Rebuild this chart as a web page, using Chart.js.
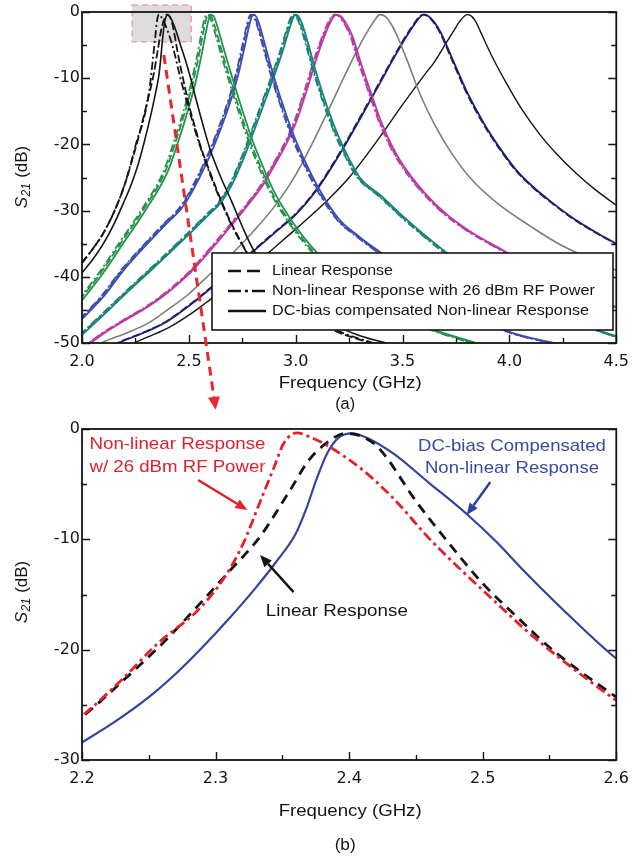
<!DOCTYPE html>
<html><head><meta charset="utf-8">
<script src="https://cdn.jsdelivr.net/npm/chart.js@4.4.1/dist/chart.umd.min.js"></script>
<style>
html,body{margin:0;padding:0;background:#fff}
body{width:638px;height:858px;position:relative;overflow:hidden}
#ca{position:absolute;left:0;top:0}
#cb{position:absolute;left:0;top:410px}
</style></head><body>
<canvas id="ca" width="638" height="420"></canvas>
<canvas id="cb" width="638" height="448"></canvas>
<script>
// ---------- tick values ----------
const xTicksA = [2.0, 2.5, 3.0, 3.5, 4.0, 4.5];
const xMinorA = [2.25, 2.75, 3.25, 3.75, 4.25];
const yTicksA = [-50, -40, -30, -20, -10, 0];
const yMinorA = [-45, -35, -25, -15, -5];
const xTicksB = [2.2, 2.3, 2.4, 2.5, 2.6];
const xMinorB = [2.25, 2.35, 2.45, 2.55];
const yTicksB = [-30, -20, -10, 0];
const yMinorB = [-25, -15, -5];

// ---------- 2.4 GHz resonator (shown in both panels) ----------
const f24_dc  = [2.0, 2.05, 2.1, 2.15, 2.2, 2.225, 2.25, 2.27, 2.29, 2.31, 2.33, 2.345, 2.36, 2.368, 2.376, 2.384, 2.392, 2.402, 2.415, 2.434, 2.46, 2.488, 2.51, 2.532, 2.569, 2.6, 2.65, 2.7, 2.75, 2.8, 2.9, 3.0, 3.1, 3.2, 3.3, 3.46];
const s24_dc  = [-39.4, -37.4, -35.0, -32.0, -28.4, -26.5, -24.3, -22.2, -19.8, -17.2, -14.4, -12.1, -9.5, -7.2, -4.4, -2.1, -0.8, -0.4, -0.9, -2.3, -4.9, -7.7, -10.2, -13.0, -17.4, -20.8, -25.0, -28.6, -32.4, -35.8, -40.5, -43.6, -45.9, -47.6, -48.9, -50.3];
const f24_lin = [2.0, 2.05, 2.1, 2.15, 2.2, 2.229, 2.263, 2.29, 2.311, 2.333, 2.356, 2.37, 2.385, 2.397, 2.41, 2.422, 2.451, 2.471, 2.5, 2.528, 2.552, 2.6, 2.65, 2.7, 2.8, 2.9, 3.0, 3.1, 3.2, 3.38];
const s24_lin = [-37.9, -35.8, -33.4, -30.2, -26.1, -23.0, -19.1, -15.6, -12.8, -9.8, -5.5, -2.8, -1.1, -0.4, -0.7, -1.7, -6.7, -9.8, -14.0, -17.3, -20.0, -24.3, -28.4, -32.0, -37.8, -41.8, -44.8, -46.8, -48.4, -50.3];
const f24_nl  = [2.0, 2.05, 2.1, 2.15, 2.2, 2.23, 2.257, 2.287, 2.307, 2.321, 2.333, 2.344, 2.351, 2.361, 2.372, 2.385, 2.41, 2.434, 2.459, 2.484, 2.508, 2.532, 2.557, 2.6, 2.65, 2.7, 2.8, 2.9, 3.0, 3.1, 3.2, 3.38];
const s24_nl  = [-37.9, -35.8, -33.4, -30.2, -26.0, -22.7, -19.4, -16.4, -13.4, -10.3, -6.7, -3.4, -1.3, -0.35, -0.8, -1.6, -3.7, -6.4, -9.8, -12.8, -15.5, -18.2, -20.7, -24.6, -28.6, -32.2, -37.8, -41.8, -44.6, -46.6, -48.2, -50.2];

// ---------- 2.6 GHz ----------
const fGreen_dc  = [2.0, 2.1, 2.2, 2.3, 2.4, 2.45, 2.5, 2.53, 2.56, 2.58, 2.592, 2.602, 2.615, 2.63, 2.66, 2.7, 2.75, 2.8, 2.85, 2.9, 3.0, 3.1, 3.2, 3.4, 3.6, 3.86];
const fGreen_lin = [1.988, 2.088, 2.188, 2.288, 2.388, 2.438, 2.488, 2.518, 2.548, 2.568, 2.58, 2.59, 2.603, 2.618, 2.648, 2.688, 2.738, 2.788, 2.838, 2.888, 2.988, 3.088, 3.188, 3.388, 3.588, 3.848];
const fGreen_nl  = [1.98, 2.08, 2.18, 2.28, 2.38, 2.43, 2.48, 2.51, 2.54, 2.56, 2.572, 2.582, 2.595, 2.61, 2.64, 2.68, 2.73, 2.78, 2.83, 2.88, 2.98, 3.08, 3.18, 3.38, 3.58, 3.84];
const sGreen     = [-43.6, -39.4, -34.6, -29.8, -24.2, -19.6, -14.4, -10.8, -6.4, -3.0, -1.2, -0.4, -0.6, -1.8, -5.2, -9.6, -14.8, -19.6, -23.6, -27.2, -32.4, -36.4, -39.6, -44.2, -47.4, -50.2];

// ---------- 2.8 GHz ----------
const fBlue_dc  = [2.0, 2.1, 2.2, 2.3, 2.4, 2.46, 2.5, 2.55, 2.6, 2.65, 2.7, 2.73, 2.76, 2.78, 2.792, 2.802, 2.815, 2.83, 2.86, 2.9, 2.95, 3.0, 3.05, 3.1, 3.2, 3.3, 3.4, 3.6, 3.8, 4.0, 4.25];
const fBlue_lin = [1.992, 2.092, 2.192, 2.292, 2.392, 2.452, 2.492, 2.542, 2.592, 2.642, 2.692, 2.722, 2.752, 2.772, 2.784, 2.794, 2.807, 2.822, 2.852, 2.892, 2.942, 2.992, 3.042, 3.092, 3.192, 3.292, 3.392, 3.592, 3.792, 3.992, 4.242];
const fBlue_nl  = [1.988, 2.088, 2.188, 2.288, 2.388, 2.448, 2.488, 2.538, 2.588, 2.638, 2.688, 2.718, 2.748, 2.768, 2.78, 2.79, 2.803, 2.818, 2.848, 2.888, 2.938, 2.988, 3.038, 3.088, 3.188, 3.288, 3.388, 3.588, 3.788, 3.988, 4.238];
const sBlue     = [-46.4, -43.0, -38.8, -35.2, -31.8, -29.9, -28.0, -25.0, -21.6, -17.6, -13.0, -9.6, -5.4, -2.4, -0.9, -0.4, -0.7, -1.9, -5.4, -10.0, -15.0, -19.4, -23.0, -26.2, -31.2, -34.0, -36.4, -41.2, -45.2, -48.3, -50.3];

// ---------- 3.0 GHz ----------
const fTeal_dc  = [2.0, 2.1, 2.2, 2.3, 2.4, 2.5, 2.6, 2.65, 2.7, 2.75, 2.8, 2.85, 2.9, 2.94, 2.97, 2.988, 3.0, 3.012, 3.03, 3.06, 3.1, 3.15, 3.2, 3.25, 3.3, 3.4, 3.5, 3.6, 3.7, 3.8, 4.0, 4.2, 4.5];
const fTeal_lin = [1.992, 2.092, 2.192, 2.292, 2.392, 2.492, 2.592, 2.642, 2.692, 2.742, 2.792, 2.842, 2.892, 2.932, 2.962, 2.98, 2.992, 3.004, 3.022, 3.052, 3.092, 3.142, 3.192, 3.242, 3.292, 3.392, 3.492, 3.592, 3.692, 3.792, 3.992, 4.192, 4.492];
const fTeal_nl  = [1.988, 2.088, 2.188, 2.288, 2.388, 2.488, 2.588, 2.638, 2.688, 2.738, 2.788, 2.838, 2.888, 2.928, 2.958, 2.976, 2.988, 3.0, 3.018, 3.048, 3.088, 3.138, 3.188, 3.238, 3.288, 3.388, 3.488, 3.588, 3.688, 3.788, 3.988, 4.188, 4.488];
const sTeal     = [-48.8, -45.8, -42.7, -39.7, -36.7, -33.6, -30.4, -28.8, -26.2, -22.6, -18.4, -14.0, -9.6, -5.8, -2.6, -0.9, -0.4, -0.6, -1.8, -5.0, -9.6, -14.6, -18.8, -22.2, -25.0, -27.8, -30.8, -33.6, -36.2, -38.4, -42.6, -45.6, -49.0];

// ---------- 3.2 GHz ----------
const fMag_dc  = [2.0, 2.1, 2.2, 2.31, 2.4, 2.5, 2.585, 2.7, 2.8, 2.85, 2.9, 2.958, 3.0, 3.05, 3.1, 3.14, 3.17, 3.19, 3.21, 3.23, 3.265, 3.3, 3.35, 3.4, 3.45, 3.5, 3.6, 3.7, 3.8, 3.97, 4.2, 4.5];
const fMag_lin = [1.994, 2.094, 2.194, 2.304, 2.394, 2.494, 2.579, 2.694, 2.794, 2.844, 2.894, 2.952, 2.994, 3.044, 3.094, 3.134, 3.164, 3.184, 3.204, 3.224, 3.259, 3.294, 3.344, 3.394, 3.444, 3.494, 3.594, 3.694, 3.794, 3.964, 4.194, 4.494];
const fMag_nl  = [1.99, 2.09, 2.19, 2.3, 2.39, 2.49, 2.575, 2.69, 2.79, 2.84, 2.89, 2.948, 2.99, 3.04, 3.09, 3.13, 3.16, 3.18, 3.2, 3.22, 3.255, 3.29, 3.34, 3.39, 3.44, 3.49, 3.59, 3.69, 3.79, 3.96, 4.19, 4.49];
const sMag     = [-51.0, -48.6, -46.6, -44.5, -42.4, -39.6, -36.6, -32.2, -28.2, -26.0, -23.2, -19.8, -16.8, -12.0, -6.8, -3.2, -1.1, -0.4, -0.6, -1.4, -3.6, -7.2, -12.0, -16.6, -20.2, -23.0, -27.2, -30.4, -32.8, -36.0, -40.0, -44.6];

// ---------- 3.4 GHz ----------
const fGray = [2.0, 2.092, 2.2, 2.31, 2.4, 2.5, 2.585, 2.7, 2.8, 2.9, 3.0, 3.1, 3.2, 3.25, 3.3, 3.34, 3.37, 3.395, 3.42, 3.45, 3.48, 3.52, 3.587, 3.65, 3.727, 3.82, 3.94, 4.1, 4.23, 4.4, 4.5];
const sGray = [-52.0, -50.0, -48.6, -47.0, -45.0, -42.6, -40.0, -36.6, -33.2, -29.4, -24.6, -18.4, -11.6, -8.2, -5.0, -2.7, -1.2, -0.4, -0.7, -2.0, -4.0, -7.2, -12.8, -17.0, -21.2, -25.2, -28.8, -32.4, -35.0, -37.6, -39.0];

// ---------- 3.6 GHz ----------
const fNavy_dc  = [2.1, 2.17, 2.3, 2.4, 2.5, 2.6, 2.7, 2.8, 2.9, 3.0, 3.1, 3.2, 3.3, 3.4, 3.46, 3.52, 3.555, 3.58, 3.6, 3.62, 3.65, 3.68, 3.74, 3.8, 3.88, 3.956, 4.03, 4.11, 4.2, 4.3, 4.4, 4.5];
const fNavy_lin = [2.096, 2.166, 2.296, 2.396, 2.496, 2.596, 2.696, 2.796, 2.896, 2.996, 3.096, 3.196, 3.296, 3.396, 3.456, 3.516, 3.551, 3.576, 3.596, 3.616, 3.646, 3.676, 3.736, 3.796, 3.876, 3.952, 4.026, 4.106, 4.196, 4.296, 4.396, 4.496];
const sNavy     = [-51.2, -50.0, -48.3, -46.7, -44.4, -41.8, -39.0, -36.2, -33.4, -30.6, -26.8, -21.8, -16.2, -10.4, -6.9, -3.6, -1.9, -0.8, -0.4, -0.6, -1.6, -3.2, -7.6, -12.0, -16.8, -20.6, -23.8, -26.4, -28.8, -31.2, -33.2, -35.0];

// ---------- 3.8 GHz ----------
const fBk38 = [2.2, 2.245, 2.3, 2.41, 2.5, 2.585, 2.7, 2.8, 2.9, 3.0, 3.1, 3.156, 3.25, 3.4, 3.5, 3.6, 3.648, 3.7, 3.74, 3.77, 3.79, 3.805, 3.825, 3.845, 3.865, 3.92, 3.985, 4.06, 4.14, 4.22, 4.307, 4.4, 4.5];
const sBk38 = [-50.8, -50.0, -49.2, -47.6, -45.8, -43.8, -41.0, -38.4, -35.6, -32.8, -29.9, -28.2, -25.0, -18.6, -14.0, -9.6, -7.6, -4.9, -2.8, -1.3, -0.6, -0.4, -0.7, -1.6, -3.0, -6.8, -10.7, -14.8, -18.4, -21.4, -24.2, -26.8, -29.2];

// ---------- texts ----------
const legendLabels = ['Linear Response', 'Non-linear Response with 26 dBm RF Power', 'DC-bias compensated Non-linear Response'];
const xTitle = 'Frequency (GHz)';

// ---------- styling ----------
const INK = '#141414', GREEN = '#22924a', BLUE = '#3b4db0', TEAL = '#1b8279', MAG = '#b83ca3', GRAY = '#7b8077', NAVY = '#1e1e6e';
const RED = '#e3202c', BLUE2 = '#33449f';
const DASH = [8, 3], DASHDOT = [8, 3, 2, 3];
const TICKFONT = {family: 'DejaVu Sans', size: 16};

function line(fx, sy, color, dash, w) {
  return {data: fx.map((f, i) => ({x: f, y: sy[i]})), borderColor: color, backgroundColor: color,
    borderWidth: w, borderDash: dash || [], pointRadius: 0, pointHoverRadius: 0, fill: false,
    cubicInterpolationMode: 'monotone', borderCapStyle: 'butt', borderJoinStyle: 'round'};
}

function fitText(ctx, txt, cx, cy, w, font, color, align) {
  ctx.save();
  ctx.font = font; ctx.fillStyle = color; ctx.textBaseline = 'middle';
  const m = ctx.measureText(txt).width;
  const sx = w ? w / m : 1;
  ctx.translate(cx, cy); ctx.scale(sx, 1);
  ctx.textAlign = align || 'center';
  ctx.fillText(txt, 0, 0);
  ctx.restore();
}

function yTitle(ctx, cx, cy) {
  ctx.save();
  ctx.translate(cx, cy); ctx.rotate(-Math.PI / 2);
  ctx.fillStyle = INK; ctx.textBaseline = 'middle'; ctx.textAlign = 'left';
  const f1 = 'italic 17px "Liberation Sans"', f2 = 'italic 12px "Liberation Sans"', f3 = '17px "Liberation Sans"';
  ctx.font = f1; const w1 = ctx.measureText('S').width;
  ctx.font = f2; const w2 = ctx.measureText('21').width;
  ctx.font = f3; const w3 = ctx.measureText(' (dB)').width;
  let x0 = -(w1 + w2 + w3) / 2;
  ctx.font = f1; ctx.fillText('S', x0, 0);
  ctx.font = f2; ctx.fillText('21', x0 + w1 + 0.5, 5);
  ctx.font = f3; ctx.fillText(' (dB)', x0 + w1 + w2 + 1, 0);
  ctx.restore();
}

function arrow(ctx, x1, y1, x2, y2, color, width, dash, headLen, headW) {
  const ang = Math.atan2(y2 - y1, x2 - x1);
  const bx = x2 - Math.cos(ang) * headLen, by = y2 - Math.sin(ang) * headLen;
  ctx.save();
  ctx.strokeStyle = color; ctx.fillStyle = color; ctx.lineWidth = width;
  ctx.setLineDash(dash || []);
  ctx.beginPath(); ctx.moveTo(x1, y1); ctx.lineTo(bx, by); ctx.stroke();
  ctx.setLineDash([]);
  ctx.beginPath();
  ctx.moveTo(x2, y2);
  ctx.lineTo(bx + Math.sin(ang) * headW, by - Math.cos(ang) * headW);
  ctx.lineTo(bx - Math.sin(ang) * headW, by + Math.cos(ang) * headW);
  ctx.closePath(); ctx.fill();
  ctx.restore();
}

function frameAndTicks(chart, xs, xm, ys, ym) {
  const {ctx, chartArea: a, scales: {x, y}} = chart;
  ctx.save();
  ctx.strokeStyle = INK; ctx.lineWidth = 1.4; ctx.setLineDash([]);
  ctx.beginPath();
  const tk = (v, len, axis) => {
    if (axis === 'x') {
      const px = Math.round(x.getPixelForValue(v)) + 0.5;
      ctx.moveTo(px, a.bottom); ctx.lineTo(px, a.bottom - len);
    } else {
      const py = Math.round(y.getPixelForValue(v)) + 0.5;
      ctx.moveTo(a.left, py); ctx.lineTo(a.left + len, py);
      ctx.moveTo(a.right, py); ctx.lineTo(a.right - len, py);
    }
  };
  xs.forEach(v => tk(v, 8, 'x')); xm.forEach(v => tk(v, 5, 'x'));
  ys.forEach(v => tk(v, 8, 'y')); ym.forEach(v => tk(v, 5, 'y'));
  ctx.stroke();
  ctx.lineWidth = 1.8;
  ctx.strokeRect(a.left, a.top, a.right - a.left, a.bottom - a.top);
  ctx.restore();
}

// ---------- top chart (a) ----------
const decoA = {
  id: 'decoA',
  beforeDatasetsDraw(chart) {
    const {ctx, scales: {x, y}} = chart;
    const x1 = x.getPixelForValue(2.235), x2 = x.getPixelForValue(2.511);
    const y1 = y.getPixelForValue(1.06), y2 = y.getPixelForValue(-4.5);
    ctx.save();
    ctx.fillStyle = '#dcdcdc'; ctx.fillRect(x1, y1, x2 - x1, y2 - y1);
    ctx.strokeStyle = '#f2a2ab'; ctx.lineWidth = 1.6; ctx.setLineDash([6, 4]);
    ctx.strokeRect(x1, y1, x2 - x1, y2 - y1);
    ctx.restore();
  },
  afterDatasetsDraw(chart) {
    const {ctx, chartArea: a, scales: {x, y}} = chart;
    frameAndTicks(chart, xTicksA, xMinorA, yTicksA, yMinorA);
    // legend box
    const lx = a.left + 130, ly = a.top + 241, lw = 401, lh = 77;
    ctx.save();
    ctx.fillStyle = '#fff'; ctx.fillRect(lx, ly, lw, lh);
    ctx.strokeStyle = INK; ctx.lineWidth = 1.6; ctx.strokeRect(lx, ly, lw, lh);
    const dashes = [[13, 6], [13, 4, 3, 4], []];
    const widths = [121, 323, 317];
    for (let i = 0; i < 3; i++) {
      const ry = ly + 18 + i * 20;
      ctx.strokeStyle = INK; ctx.lineWidth = 2.4; ctx.setLineDash(dashes[i]);
      ctx.beginPath(); ctx.moveTo(lx + 16, ry); ctx.lineTo(lx + 54, ry); ctx.stroke();
      fitText(ctx, legendLabels[i], lx + 60, ry, widths[i], '15px "Liberation Sans"', INK, 'left');
    }
    ctx.restore();
    // red dashed arrow toward panel (b)
    arrow(ctx, x.getPixelForValue(2.383), y.getPixelForValue(-6.5), x.getPixelForValue(2.626), y.getPixelForValue(-60.1), '#e8262f', 3, [9, 6], 13, 6);
    // titles
    yTitle(ctx, 22, (a.top + a.bottom) / 2);
    fitText(ctx, xTitle, (a.left + a.right) / 2 + 1, a.bottom + 41, 143, '16px "Liberation Sans"', INK);
    fitText(ctx, '(a)', (a.left + a.right) / 2 - 4, a.bottom + 62, 20, '16px "Liberation Sans"', INK);
  }
};

const dsA = [
  line(f24_nl, s24_nl, INK, DASHDOT, 1.8), line(f24_lin, s24_lin, INK, DASH, 1.8), line(f24_dc, s24_dc, INK, [], 1.6),
  line(fGreen_nl, sGreen, GREEN, DASHDOT, 1.8), line(fGreen_lin, sGreen, GREEN, DASH, 1.8), line(fGreen_dc, sGreen, GREEN, [], 1.8),
  line(fBlue_nl, sBlue, BLUE, DASHDOT, 1.8), line(fBlue_lin, sBlue, BLUE, DASH, 1.8), line(fBlue_dc, sBlue, BLUE, [], 1.8),
  line(fTeal_nl, sTeal, TEAL, DASHDOT, 1.8), line(fTeal_lin, sTeal, TEAL, DASH, 1.8), line(fTeal_dc, sTeal, TEAL, [], 1.8),
  line(fMag_nl, sMag, MAG, DASHDOT, 1.8), line(fMag_lin, sMag, MAG, DASH, 1.8), line(fMag_dc, sMag, MAG, [], 1.8),
  line(fGray, sGray, GRAY, [], 1.6),
  line(fNavy_lin, sNavy, NAVY, DASH, 1.8), line(fNavy_dc, sNavy, NAVY, [], 1.8),
  line(fBk38, sBk38, INK, [], 1.4)
];

function scaleOpts(min, max, ticksArr, fmt, pos, fitFn, pad) {
  return {
    type: 'linear', position: pos, min: min, max: max,
    afterBuildTicks: s => { s.ticks = ticksArr.map(v => ({value: v})); },
    afterFit: fitFn,
    grid: {display: false, drawTicks: false},
    border: {display: false},
    ticks: {font: TICKFONT, color: INK, padding: pad, autoSkip: false, maxRotation: 0, callback: fmt}
  };
}

new Chart(document.getElementById('ca'), {
  type: 'line',
  data: {datasets: dsA},
  options: {
    responsive: false, devicePixelRatio: 1, animation: false,
    layout: {padding: {top: 12, right: 13, left: 0, bottom: 0}},
    plugins: {legend: {display: false}, tooltip: {enabled: false}},
    scales: {
      x: scaleOpts(2.0, 4.5, xTicksA, v => v.toFixed(1), 'bottom', s => { s.height = 77; }, 9),
      y: scaleOpts(-50, 0, yTicksA, v => String(v), 'left', s => { s.width = 82; }, 2)
    }
  },
  plugins: [decoA]
});

// ---------- bottom chart (b) ----------
const decoB = {
  id: 'decoB',
  afterDatasetsDraw(chart) {
    const {ctx, chartArea: a, scales: {x, y}} = chart;
    frameAndTicks(chart, xTicksB, xMinorB, yTicksB, yMinorB);
    const F = '17px "Liberation Sans"';
    fitText(ctx, 'Non-linear Response', x.getPixelForValue(2.2715), y.getPixelForValue(-1.36), 176, F, RED);
    fitText(ctx, 'w/ 26 dBm RF Power', x.getPixelForValue(2.2715), y.getPixelForValue(-3.45), 176, F, RED);
    arrow(ctx, x.getPixelForValue(2.2869), y.getPixelForValue(-4.62), x.getPixelForValue(2.3238), y.getPixelForValue(-7.34), RED, 2.4, [], 12, 5);
    fitText(ctx, 'DC-bias Compensated', x.getPixelForValue(2.5219), y.getPixelForValue(-1.54), 188, F, '#3a4aa2');
    fitText(ctx, 'Non-linear Response', x.getPixelForValue(2.5219), y.getPixelForValue(-3.54), 174, F, '#3a4aa2');
    arrow(ctx, x.getPixelForValue(2.5057), y.getPixelForValue(-4.8), x.getPixelForValue(2.488), y.getPixelForValue(-7.8), '#2f3f9c', 2.4, [], 12, 5);
    fitText(ctx, 'Linear Response', x.getPixelForValue(2.3908), y.getPixelForValue(-16.5), 142, F, INK);
    arrow(ctx, x.getPixelForValue(2.3584), y.getPixelForValue(-14.78), x.getPixelForValue(2.3333), y.getPixelForValue(-11.42), INK, 2.4, [], 12, 5);
    yTitle(ctx, 22, (a.top + a.bottom) / 2 - 2);
    fitText(ctx, xTitle, (a.left + a.right) / 2 + 1, a.bottom + 52, 143, '16px "Liberation Sans"', INK);
    fitText(ctx, '(b)', (a.left + a.right) / 2 - 4, a.bottom + 86, 21, '16px "Liberation Sans"', INK);
  }
};

const dsB = [
  line(f24_nl, s24_nl, RED, [10, 4, 3, 4], 2.8),
  line(f24_lin, s24_lin, INK, [10, 7], 2.8),
  line(f24_dc, s24_dc, BLUE2, [], 2.2)
];

new Chart(document.getElementById('cb'), {
  type: 'line',
  data: {datasets: dsB},
  options: {
    responsive: false, devicePixelRatio: 1, animation: false,
    layout: {padding: {top: 19, right: 13, left: 0, bottom: 0}},
    plugins: {legend: {display: false}, tooltip: {enabled: false}},
    scales: {
      x: scaleOpts(2.2, 2.6, xTicksB, v => v.toFixed(1), 'bottom', s => { s.height = 98; }, 9),
      y: scaleOpts(-30, 0, yTicksB, v => String(v), 'left', s => { s.width = 82; }, 2)
    }
  },
  plugins: [decoB]
});
</script>
</body></html>
